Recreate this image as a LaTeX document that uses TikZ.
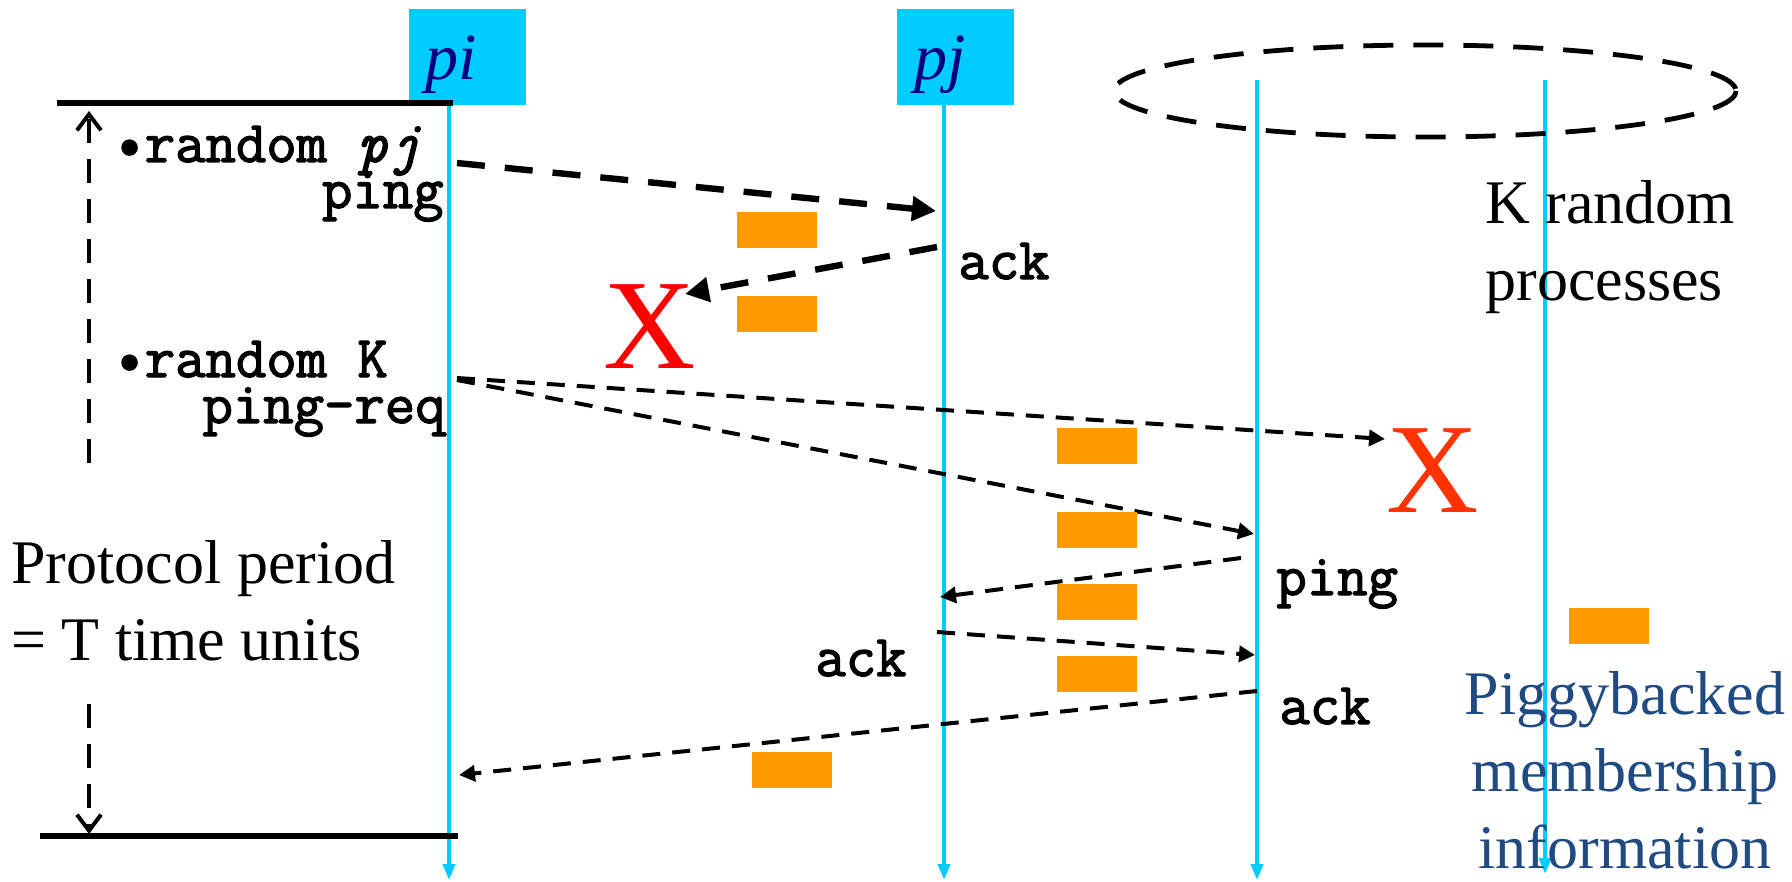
\documentclass[tikz,border=0pt]{standalone}
\usepackage{fontspec}
\setmainfont{Liberation Serif}
\newfontfamily\codefam{Latin Modern Mono}[FakeBold=2.2]
\usetikzlibrary{arrows.meta}
\definecolor{proccyan}{HTML}{00CCFF}
\definecolor{piggyorange}{HTML}{FF9900}
\definecolor{namenavy}{HTML}{000080}
\definecolor{piggyblue}{HTML}{1F4A82}
\definecolor{lostred}{HTML}{FF0000}
\definecolor{lostorange}{HTML}{FF3300}
\newcommand\codefont{\fontsize{29.5}{36}\selectfont\codefam}
\newcommand\bodyfont{\fontsize{31}{38.5}\selectfont}
\tikzset{
  lifeline/.style = {draw=proccyan, line width=2pt, -{Triangle[length=8pt,width=6pt]}},
  procbox/.style = {fill=proccyan, minimum width=58.5pt, minimum height=48pt, inner sep=0pt},
  procname/.style = {inner sep=0pt, text=namenavy, font=\fontsize{33}{33}\selectfont\itshape},
  piggy/.style = {fill=piggyorange, minimum width=40pt, minimum height=18pt, inner sep=0pt},
  bigmsg/.style = {line width=3.2pt, dash pattern=on 14pt off 10pt, -{Triangle[length=12pt,width=12pt]}},
  msg/.style = {line width=2pt, dash pattern=on 9pt off 6pt, -{Triangle[length=8pt,width=8pt]}},
  periodarrow/.style = {line width=2pt, dash pattern=on 12pt off 8pt, -{Straight Barb[length=8pt,width=12pt]}},
  msgtext/.style = {inner sep=0pt, font=\codefont},
  bodytext/.style = {inner sep=0pt, font=\bodyfont},
  lost/.style = {inner sep=0pt, font=\fontsize{64}{64}\selectfont}
}

\begin{document}
\begin{tikzpicture}[x=0.5pt, y=-0.5pt]
  \useasboundingbox (0,0) rectangle (1792,882);

  % processes
  \node[procbox] (piBox) at (467.5,57) {};
  \node[procbox] (pjBox) at (955.5,57) {};
  \node[procname, anchor=base] (piName) at (451,80) {pi};
  \node[procname, anchor=base] (pjName) at (940,80) {pj};
  \draw[lifeline] (449,105) coordinate (piTop) -- (449,880) coordinate (piEnd);
  \draw[lifeline] (944,105) coordinate (pjTop) -- (944,880) coordinate (pjEnd);
  \draw[lifeline] (1257,80) coordinate (pkTop) -- (1257,880) coordinate (pkEnd);
  \draw[lifeline] (1545,80) coordinate (plTop) -- (1545,874) coordinate (plEnd);

  % K random processes
  \draw[line width=2.4pt, dash pattern=on 15pt off 10pt] (1425,91) ellipse [x radius=311, y radius=46];
  \node[bodytext, anchor=base west, align=left] (kGroup) at (1485,300) {K random\\processes};

  % protocol period
  \draw[line width=2.8pt] (57,103) coordinate (periodTop) -- (453,103);
  \draw[line width=2.8pt] (40,836) coordinate (periodBot) -- (458,836);
  \draw[periodarrow] (89,463) coordinate (upStart) -- (89,111) coordinate (upEnd);
  \draw[periodarrow] (89,704) coordinate (downStart) -- (89,834) coordinate (downEnd);
  \node[bodytext, anchor=base west, align=left] (period) at (11,660) {Protocol period\\= T time units};

  % steps at pi
  \node[msgtext, anchor=base west] (stepPing) at (114,162) {\textbullet random \textit{pj}};
  \node[msgtext, anchor=base east] (stepPingB) at (444,208) {ping};
  \node[msgtext, anchor=base west] (stepReq) at (114,377) {\textbullet random K};
  \node[msgtext, anchor=base east] (stepReqB) at (446,423) {ping-req};

  % message end points
  \coordinate (a1) at (457,163);  \coordinate (a2) at (936,211);
  \coordinate (b1) at (937,247);  \coordinate (b2) at (685,294);
  \coordinate (c1) at (457,378);  \coordinate (c2) at (1385,439);
  \coordinate (d1) at (457,380);  \coordinate (d2) at (1254,534);
  \coordinate (e1) at (1241,558); \coordinate (e2) at (940,597);
  \coordinate (f1) at (937,632);  \coordinate (f2) at (1255,655);
  \coordinate (g1) at (1257,691); \coordinate (g2) at (459,775);

  \draw[bigmsg] (a1) -- (a2);
  \draw[bigmsg] (b1) -- (b2);
  \draw[msg] (c1) -- (c2);
  \draw[msg] (d1) -- (d2);
  \draw[msg] (e1) -- (e2);
  \draw[msg] (f1) -- (f2);
  \draw[msg] (g1) -- (g2);

  \node[msgtext, anchor=base west] (ackA) at (958,279) {ack};
  \node[msgtext, anchor=base west] (pingK) at (1276,595) {ping};
  \node[msgtext, anchor=base west] (ackB) at (815,676) {ack};
  \node[msgtext, anchor=base west] (ackC) at (1279,724) {ack};

  % lost messages
  \node[lost, text=lostred, anchor=base] (lostA) at (650,368) {X};
  \node[lost, text=lostorange, anchor=base] (lostB) at (1433,512) {X};

  % piggybacked information
  \node[piggy] (pg1) at (777,230) {};
  \node[piggy] (pg2) at (777,314) {};
  \node[piggy] (pg3) at (1097,446) {};
  \node[piggy] (pg4) at (1097,530) {};
  \node[piggy] (pg5) at (1097,602) {};
  \node[piggy] (pg6) at (1097,674) {};
  \node[piggy] (pg7) at (792,770) {};
  \node[piggy] (pg8) at (1609,626) {};
  \node[bodytext, text=piggyblue, anchor=base, align=center] (piggyInfo) at (1625,868) {Piggybacked\\membership\\information};
\end{tikzpicture}
\end{document}
